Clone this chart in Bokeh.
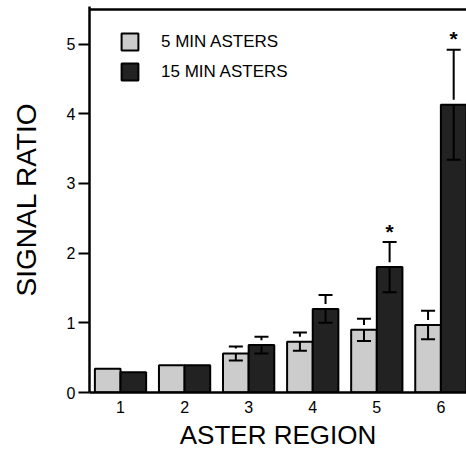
import numpy as np
from bokeh.plotting import figure
from bokeh.models import (ColumnDataSource, Whisker, TeeHead, Legend, LegendItem,
                          FixedTicker, Range1d)
from bokeh.embed import file_html
from bokeh.resources import INLINE

# ---- data ----
regions = [1, 2, 3, 4, 5, 6]
tick_labels = ["1", "2", "3", "4", "5", "6"]
y_ticks = [0, 1, 2, 3, 4, 5]
min5_values = [0.34, 0.39, 0.56, 0.73, 0.90, 0.97]
min5_err = [0.0, 0.0, 0.10, 0.13, 0.16, 0.205]
min15_values = [0.29, 0.39, 0.68, 1.20, 1.80, 4.13]
min15_err = [0.0, 0.0, 0.12, 0.20, 0.36, 0.79]
min15_significant = [False, False, False, False, True, True]
series_names = ["5 MIN ASTERS", "15 MIN ASTERS"]

FONT = "Liberation Sans"
LIGHT = "#cccccc"
DARK = "#222222"
bar_w = 0.4
gap = 0.07
y_top = 5.5
y_pad = 0.04

reg = np.array(regions, dtype=float)
src5 = ColumnDataSource(dict(x=reg - bar_w / 2, top=min5_values, err=min5_err))
src15 = ColumnDataSource(dict(x=reg + bar_w / 2, top=min15_values, err=min15_err))

p = figure(width=466, height=452, output_backend="svg", toolbar_location=None,
           x_range=Range1d(0.516, 6.4), y_range=Range1d(0, y_top + y_pad),
           min_border_left=89, min_border_right=0, min_border_top=6, min_border_bottom=0)
p.outline_line_color = None
p.xgrid.visible = False
p.ygrid.visible = False
p.background_fill_color = "white"
p.border_fill_color = "white"

# top border line of the box
p.hspan(y=[y_top], line_color="black", line_width=2.5)

r5 = p.vbar(x="x", top="top", width=bar_w, source=src5, fill_color=LIGHT,
            line_color="black", line_width=2)
r15 = p.vbar(x="x", top="top", width=bar_w, source=src15, fill_color=DARK,
             line_color="black", line_width=2)

def add_err(vals, errs, xs):
    v = np.array(vals); e = np.array(errs); m = e > 0
    s_up = ColumnDataSource(dict(base=xs[m], lower=v[m] + gap, upper=v[m] + e[m]))
    s_lo = ColumnDataSource(dict(base=xs[m], lower=v[m] - e[m], upper=v[m]))
    up = Whisker(source=s_up, base="base", lower="lower", upper="upper", dimension="height",
                 line_color="black", line_width=2, level="overlay",
                 upper_head=TeeHead(size=14, line_width=2, line_color="black"), lower_head=None)
    lo = Whisker(source=s_lo, base="base", lower="lower", upper="upper", dimension="height",
                 line_color="black", line_width=2, level="overlay",
                 lower_head=TeeHead(size=14, line_width=2, line_color="black"), upper_head=None)
    p.add_layout(up)
    p.add_layout(lo)

add_err(min5_values, min5_err, reg - bar_w / 2)
add_err(min15_values, min15_err, reg + bar_w / 2)

# significance asterisks
sig = np.array(min15_significant)
v15 = np.array(min15_values); e15 = np.array(min15_err)
star_src = ColumnDataSource(dict(x=(reg + bar_w / 2)[sig], y=(v15 + e15)[sig],
                                 t=["*"] * int(sig.sum())))
p.text(x="x", y="y", text="t", source=star_src, text_align="center",
       text_baseline="alphabetic", y_offset=-11, text_font_size="21px",
       text_font_style="bold", text_font={"value": FONT}, text_color="black")

# axes
xa = p.below[0]
xa.ticker = FixedTicker(ticks=regions)
xa.major_label_overrides = {r: t for r, t in zip(regions, tick_labels)}
xa.major_tick_out = 0
xa.major_tick_in = 0
xa.minor_tick_line_color = None
xa.axis_line_width = 2.5
xa.major_label_standoff = 8
xa.major_label_text_font = FONT
xa.major_label_text_font_size = "16px"
xa.major_label_text_color = "black"
xa.axis_label = "ASTER REGION"
xa.axis_label_text_font = FONT
xa.axis_label_text_font_size = "26px"
xa.axis_label_text_font_style = "normal"
xa.axis_label_text_color = "black"
xa.axis_label_text_line_height = 1.0
xa.axis_label_standoff = 4

ya = p.left[0]
ya.ticker = FixedTicker(ticks=y_ticks)
ya.major_tick_out = 11
ya.major_tick_in = 0
ya.major_tick_line_width = 2
ya.minor_tick_line_color = None
ya.axis_line_width = 2.5
ya.major_label_standoff = 3
ya.major_label_text_font = FONT
ya.major_label_text_font_size = "16px"
ya.major_label_text_color = "black"
ya.axis_label = "SIGNAL RATIO"
ya.axis_label_text_font = FONT
ya.axis_label_text_font_size = "28px"
ya.axis_label_text_font_style = "normal"
ya.axis_label_text_color = "black"
ya.axis_label_standoff = 22

legend = Legend(items=[LegendItem(label=series_names[0], renderers=[r5]),
                       LegendItem(label=series_names[1], renderers=[r15])],
                location=(30, 310), orientation="vertical",
                glyph_width=21, glyph_height=21, label_height=21, label_standoff=21,
                spacing=9, padding=0, margin=0,
                border_line_color=None, background_fill_alpha=0,
                label_text_font=FONT, label_text_font_size="17px", label_text_color="black")
p.add_layout(legend)

open("out.html", "w").write(file_html(p, INLINE))
